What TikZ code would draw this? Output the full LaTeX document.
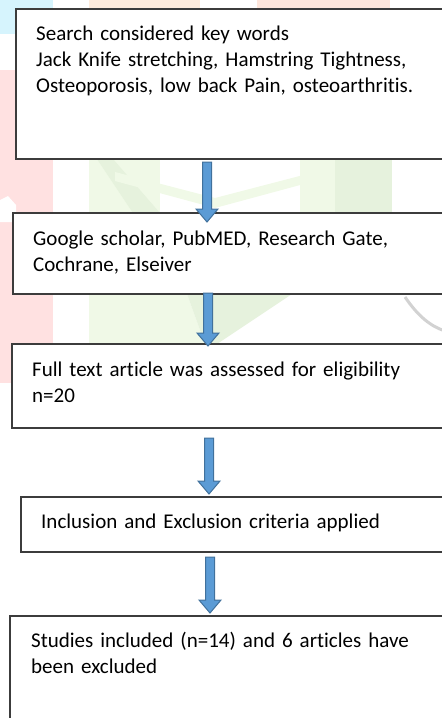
\documentclass[tikz,border=0pt]{standalone}
\usepackage{fontspec}
\setmainfont{Carlito}[Ligatures=NoCommon]
\usetikzlibrary{calc}

\definecolor{wmcyan}{RGB}{214,244,253}
\definecolor{wmpink}{RGB}{255,225,225}
\definecolor{wmpeach}{RGB}{254,236,221}
\definecolor{wmpeachb}{RGB}{254,230,220}
\definecolor{wmgreen}{RGB}{240,249,231}
\definecolor{wmgreenb}{RGB}{230,242,221}
\definecolor{wmgray}{RGB}{210,210,210}
\definecolor{arrfill}{RGB}{91,155,213}
\definecolor{arrline}{RGB}{65,113,156}
\definecolor{boxline}{RGB}{60,60,60}

\tikzset{
  stagebox/.style={draw=boxline, line width=1.1pt, fill=white, rectangle,
    inner sep=0pt, outer sep=0pt, anchor=north west},
  stagetext/.style={anchor=base west, inner sep=0pt, text width=410pt,
    align=left, font=\fontsize{21}{26}\selectfont},
  blockarr/.style={fill=arrfill, draw=arrline, line width=1pt, line join=miter},
}

% block arrow from #1 (top of the shaft) to #2 (tip)
\newcommand\blockarrow[2]{%
  \draw[blockarr] let \p1=(#1), \p2=(#2) in
    (\x1-4.5pt,\y1) -- (\x1+4.5pt,\y1) -- (\x1+4.5pt,\y2+13pt) --
    (\x1+11pt,\y2+13pt) -- (\x2,\y2) -- (\x1-11pt,\y2+13pt) --
    (\x1-4.5pt,\y2+13pt) -- cycle;}

\begin{document}
\begin{tikzpicture}[x=1pt,y=-1pt]
\useasboundingbox (0,0) rectangle (442,718);
\clip (0,0) rectangle (442,718);

% faint background watermark
\fill[wmcyan] (0,0) rectangle (53,34);
\fill[wmpink] (0,70) rectangle (53,383);
\fill[white] (0,200) -- (8,196) -- (16,205) -- (16,222) -- (0,222) -- cycle;
\fill[wmpeach] (89,0) rectangle (200,9);
\fill[wmpeachb] (257,0) rectangle (390,9);
\fill[wmgreen] (89,159) rectangle (160,213);
\fill[wmgreenb] (97,159) -- (113,159) -- (160,213) -- (133,213) -- cycle;
\fill[wmgreen] (115,172) -- (215,198) -- (315,172) -- (315,181) -- (215,208) -- (115,181) -- cycle;
\fill[wmgreen] (300,159) rectangle (335,213);
\fill[wmgreenb] (335,159) rectangle (392,213);
\fill[wmgreen] (89,294) -- (187,294) -- (205,344) -- (89,344) -- cycle;
\fill[wmgreenb] (187,294) -- (292,294) -- (217,344) -- (205,344) -- cycle;
\draw[wmgray, line width=3pt] (405,297) .. controls (418,316) and (430,326) .. (445,331);

% stage boxes
\node[stagebox, minimum width=444pt, minimum height=150pt] (b1) at (16,9) {};
\node[stagebox, minimum width=447pt, minimum height=81pt] (b2) at (13,213) {};
\node[stagebox, minimum width=448pt, minimum height=84pt] (b3) at (12,344) {};
\node[stagebox, minimum width=439pt, minimum height=55pt] (b4) at (21,497) {};
\node[stagebox, minimum width=450pt, minimum height=114pt] (b5) at (10,616) {};

% stage texts
\node[stagetext] (t1) at (36,40) {Search considered key words\\Jack Knife stretching, Hamstring Tightness,\\Osteoporosis, low back Pain, osteoarthritis.};
\node[stagetext] (t2) at (33,245) {Google scholar, PubMED, Research Gate,\\Cochrane, Elseiver};
\node[stagetext] (t3) at (32,376) {Full text article was assessed for eligibility\\n=20};
\node[stagetext] (t4) at (41,528) {Inclusion and Exclusion criteria applied};
\node[stagetext] (t5) at (31,647) {Studies included (n=14) and 6 articles have\\been excluded};

% arrow ends
\coordinate (a1s) at (207,162); \coordinate (a1e) at (207,222);
\coordinate (a2s) at (208,293); \coordinate (a2e) at (208,346);
\coordinate (a3s) at (209,438); \coordinate (a3e) at (209,494);
\coordinate (a4s) at (210,557); \coordinate (a4e) at (210,613);

\blockarrow{a1s}{a1e}
\blockarrow{a2s}{a2e}
\blockarrow{a3s}{a3e}
\blockarrow{a4s}{a4e}
\end{tikzpicture}
\end{document}
